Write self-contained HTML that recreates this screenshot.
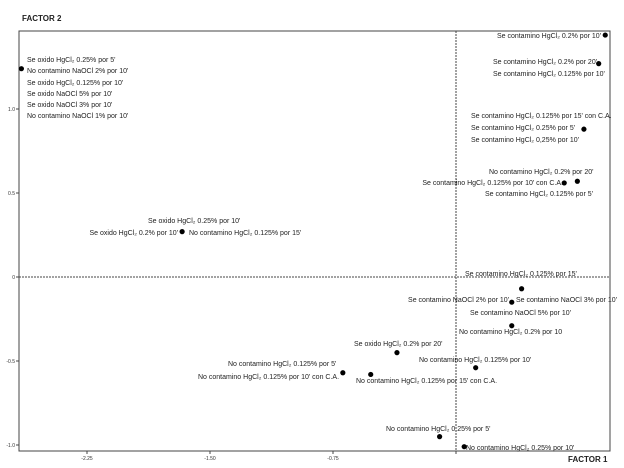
<!DOCTYPE html>
<html><head><meta charset="utf-8"><style>
body{margin:0;background:#fff}
svg{display:block;font-family:"Liberation Sans",sans-serif}
.lb{font-size:7px;fill:#222}
</style></head><body>
<svg id="c" width="624" height="468">
<text x="22" y="21" font-size="8" font-weight="bold" fill="#222">FACTOR 2</text>
<text x="568" y="462" font-size="8" font-weight="bold" fill="#222">FACTOR 1</text>
<rect x="19" y="31" width="591" height="420" fill="none" stroke="#444" stroke-width="1"/>
<g id="ax"></g><g id="pts"></g><g id="lbs"></g>
</svg>
<script>
const xTicks=[-2.25,-1.5,-0.75,0];
const xTickLabels=["-2.25","-1.50","-0.75",""];
const yTicks=[1,0.5,0,-0.5,-1];
const yTickLabels=["1.0","0.5","0","-0.5","-1.0"];
const xVals=[-2.65,0.91,0.87,0.78,0.74,0.66,-1.67,0.40,0.34,0.34,-0.36,0.12,-0.69,-0.52,-0.10,0.05];
const yVals=[1.24,1.44,1.27,0.88,0.57,0.56,0.27,-0.07,-0.15,-0.29,-0.45,-0.54,-0.57,-0.58,-0.95,-1.01];
const labels=[
["Se oxido HgCl₂ 0.25% por 5'",27,62,"start"],["No contamino NaOCl 2% por 10'",27,73,"start"],
["Se oxido HgCl₂ 0.125% por 10'",27,85,"start"],["Se oxido NaOCl 5% por 10'",27,96,"start"],
["Se oxido NaOCl 3% por 10'",27,107,"start"],["No contamino NaOCl 1% por 10'",27,118,"start"],
["Se oxido HgCl₂ 0.25% por 10'",148,223,"start"],["Se oxido HgCl₂ 0.2% por 10'",178,235,"end"],
["No contamino HgCl₂ 0.125% por 15'",189,235,"start"],
["Se contamino HgCl₂ 0.2% por 10'",601,38,"end"],["Se contamino HgCl₂ 0.2% por 20'",493,64,"start"],
["Se contamino HgCl₂ 0.125% por 10'",493,76,"start"],["Se contamino HgCl₂ 0.125% por 15' con C.A.",471,118,"start"],
["Se contamino HgCl₂ 0.25% por 5'",471,130,"start"],["Se contamino HgCl₂ 0,25% por 10'",471,142,"start"],
["No contamino HgCl₂ 0.2% por 20'",489,174,"start"],["Se contamino HgCl₂ 0.125% por 10' con C.A.",563,185,"end"],
["Se contamino HgCl₂ 0.125% por 5'",485,196,"start"],["Se contamino HgCl₂ 0.125% por 15'",465,276,"start"],
["Se contamino NaOCl 2% por 10'",509,302,"end"],["Se contamino NaOCl 3% por 10'",516,302,"start"],
["Se contamino NaOCl 5% por 10'",470,315,"start"],["No contamino HgCl₂ 0.2% por 10",459,334,"start"],
["Se oxido HgCl₂ 0.2% por 20'",354,346,"start"],["No contamino HgCl₂ 0.125% por 10'",419,362,"start"],
["No contamino HgCl₂ 0.125% por 5'",228,366,"start"],["No contamino HgCl₂ 0.125% por 10' con C.A.",198,379,"start"],
["No contamino HgCl₂ 0.125% por 15' con C.A.",356,383,"start"],["No contamino HgCl₂ 0.25% por 5'",386,431,"start"],
["No contamino HgCl₂ 0.25% por 10'",466,450,"start"]];
const X=v=>456+164*v, Y=v=>277-168*v;
const NS="http://www.w3.org/2000/svg";
function mk(t,a,p){const e=document.createElementNS(NS,t);for(const k in a)e.setAttribute(k,a[k]);p.appendChild(e);return e;}
const ax=document.getElementById('ax');
let l=mk('line',{x1:19,x2:610,y1:Y(0),y2:Y(0),stroke:'#444','stroke-dasharray':'2,1','stroke-width':1},ax);


l=mk('line',{x1:X(0),x2:X(0),y1:31,y2:451,stroke:'#444','stroke-dasharray':'2,1','stroke-width':1},ax);


xTicks.forEach((t,i)=>{const g=mk('g',{},ax);


mk('line',{x1:X(t),x2:X(t),y1:451,y2:454,stroke:'#444'},g);
const tx=mk('text',{x:X(t),y:460,'font-size':5,'text-anchor':'middle',fill:'#333'},g);tx.textContent=xTickLabels[i];});
yTicks.forEach((t,i)=>{const g=mk('g',{},ax);


mk('line',{x1:16,x2:19,y1:Y(t),y2:Y(t),stroke:'#444'},g);
const tx=mk('text',{x:15,y:Y(t)+2,'font-size':5,'text-anchor':'end',fill:'#333'},g);tx.textContent=yTickLabels[i];});
const pts=document.getElementById('pts');
xVals.forEach((v,i)=>{const c=mk('circle',{cx:X(v),cy:Y(yVals[i]),r:2.6,fill:'#000'},pts);

});
const lbs=document.getElementById('lbs');
labels.forEach(d=>{const t=mk('text',{x:d[1],y:d[2],'text-anchor':d[3],class:'lb'},lbs);t.textContent=d[0];

});
</script>
</body></html>
